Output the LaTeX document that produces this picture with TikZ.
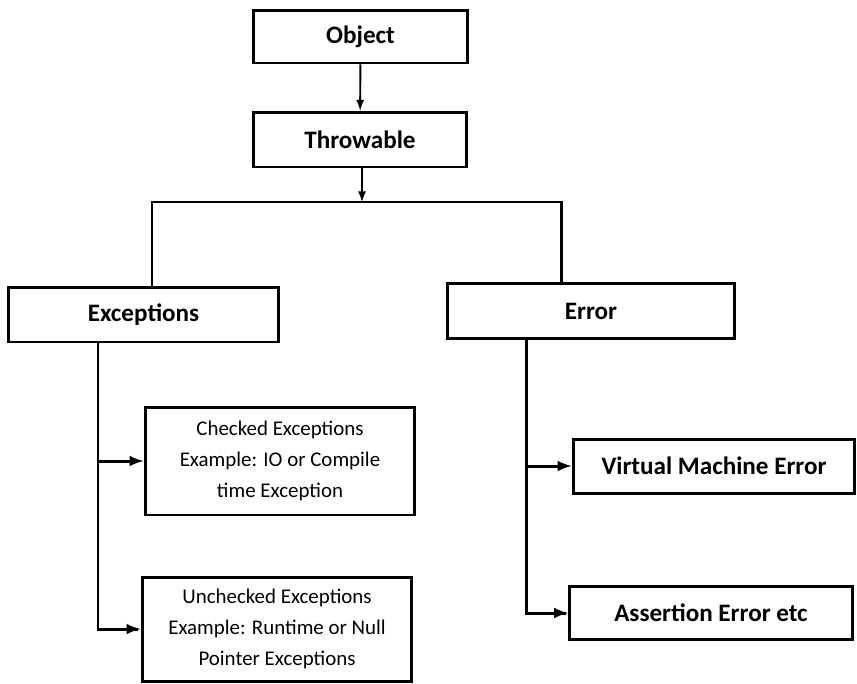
\documentclass[tikz,border=0pt]{standalone}
\usepackage{fontspec}
\setmainfont{Carlito}
\usepackage{tikz}
\usetikzlibrary{arrows}
\usetikzlibrary{positioning}

\tikzset{
  box/.style={draw, rectangle, line width=1.7pt, inner sep=2pt},
  bigtext/.style={font=\fontsize{14.3}{17}\selectfont\bfseries},
  smalltext/.style={font=\fontsize{11.9}{17.6}\selectfont, align=center},
  link/.style={line width=1.7pt},
  arr/.style={line width=1.1pt, ->, >=latex},
  branch/.style={line width=1.7pt, ->, >=latex}
}

\begin{document}
\begin{tikzpicture}[x=0.02cm, y=-0.02cm]
\useasboundingbox (0,0) rectangle (857,683);
% Top of the hierarchy
\node[box, bigtext, minimum width=4.30cm, minimum height=1.06cm] (obj) at (360.5,36.5) {Object};
\node[box, bigtext, minimum width=4.28cm, minimum height=1.10cm] (thr) at (360,139.5) {Throwable};
% Two branches
\node[box, bigtext, minimum width=5.42cm, minimum height=1.10cm] (exc) at (143.5,314.5) {Exceptions};
\node[box, bigtext, minimum width=5.76cm, minimum height=1.10cm] (err) at (591,311) {Error};
% Kinds of exceptions
\node[box, smalltext, minimum width=5.40cm, minimum height=2.16cm] (chk) at (280,461) {Checked Exceptions\\Example: IO or Compile\\time Exception};
\node[box, smalltext, minimum width=5.40cm, minimum height=2.08cm] (unchk) at (277,629) {Unchecked Exceptions\\Example: Runtime or Null\\Pointer Exceptions};
% Kinds of errors
\node[box, bigtext, minimum width=5.64cm, minimum height=1.08cm] (vme) at (714,466) {Virtual Machine Error};
\node[box, bigtext, minimum width=5.66cm, minimum height=1.06cm] (asrt) at (711,613) {Assertion Error etc};
% Bar under Throwable
\coordinate (bar) at (362,202);
\coordinate (barL) at (152,202);
\coordinate (barR) at (561,202);
\coordinate (excT) at (98,342);
\coordinate (errT) at (526,338);
% Arrows
\draw[arr] (obj) -- (thr);
\draw[arr] (thr.south -| bar) -- (bar);
\draw[link] (barL |- exc.north) -- (barL) -- (barR) -- (barR |- err.north);
\draw[link] (excT) |- ([xshift=-1.4pt]unchk.west);
\draw[branch] (excT |- chk.west) -- (chk.west);
\draw[branch] (excT |- unchk.west) -- (unchk.west);
\draw[link] (errT) |- ([xshift=-1.4pt]asrt.west);
\draw[branch] (errT |- vme.west) -- (vme.west);
\draw[branch] (errT |- asrt.west) -- (asrt.west);
\end{tikzpicture}
\end{document}
